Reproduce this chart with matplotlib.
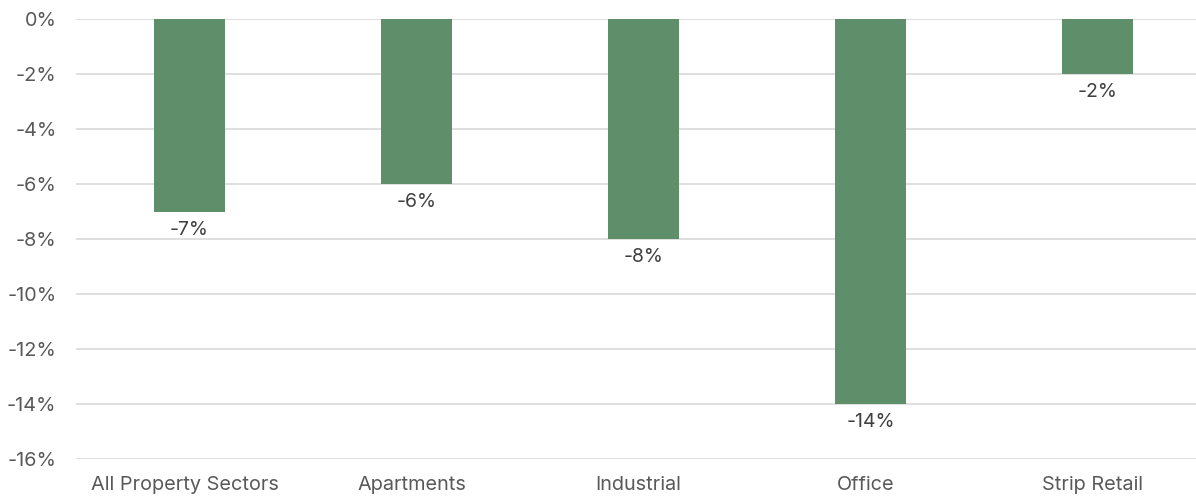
import matplotlib.pyplot as plt
from matplotlib.ticker import FuncFormatter
from matplotlib.transforms import ScaledTranslation

categories = ['All Property Sectors', 'Apartments', 'Industrial', 'Office', 'Strip Retail']
values = [-7, -6, -8, -14, -2]
yticks = [0, -2, -4, -6, -8, -10, -12, -14, -16]

plt.rcParams['font.family'] = ['Inter', 'DejaVu Sans']

W, H = 1196, 496
fig = plt.figure(figsize=(W / 100, H / 100), dpi=100)
ax = fig.add_axes([76 / W, 1 - 459 / H, (W - 76) / W, 440 / H])

x = list(range(len(categories)))
bars = ax.bar(x, values, width=0.31, color='#5E8F6A', zorder=3)

for xi, v in zip(x, values):
    ax.annotate(f'{v}%', (xi, v), xytext=(0, -6.5), textcoords='offset points',
                ha='center', va='top', fontsize=14, color='#404040')

ax.set_ylim(-16, 0)
ax.set_xlim(-0.5, (W - 76) / 227 - 0.5)
ax.set_yticks(yticks)
ax.yaxis.set_major_formatter(FuncFormatter(lambda v, p: f'{v:.0f}%'))
ax.set_xticks(x)
ax.set_xticklabels(categories)
ax.tick_params(axis='both', length=0, labelsize=14.3, labelcolor='#595959')
ax.tick_params(axis='y', pad=14)
ax.tick_params(axis='x', pad=12)
shift = ScaledTranslation(-5 / 100, 0, fig.dpi_scale_trans)
for lbl in ax.get_xticklabels():
    lbl.set_transform(lbl.get_transform() + shift)
ax.grid(axis='y', color='#D9D9D9', linewidth=1.2, zorder=0)
for s in ax.spines.values():
    s.set_visible(False)

fig.savefig('out.png', dpi=100)
